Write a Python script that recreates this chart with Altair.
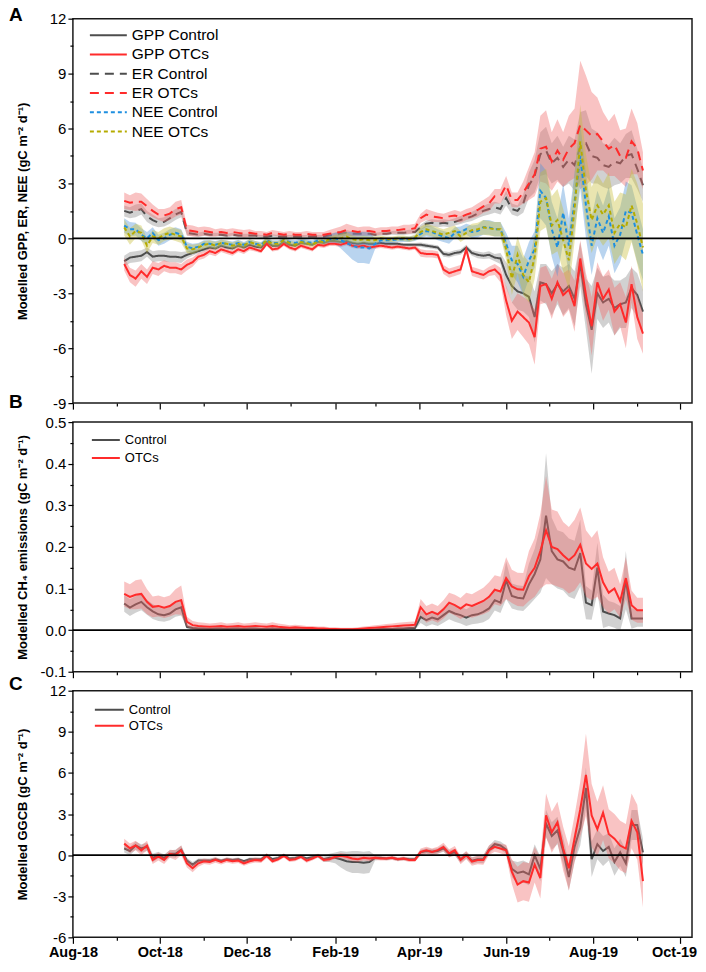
import altair as alt
import pandas as pd

N = 92
dates = pd.date_range("2018-09-06", periods=N, freq="4D").strftime("%Y-%m-%d").tolist()

# ---------------- Panel A : GPP, ER, NEE (gC m-2 d-1) ----------------
gpp_control = ([-1.25, -1.05, -1.0, -0.95, -0.75, -1.0, -0.95, -0.95, -1.0, -1.0, -1.05]
    + [-0.9, -0.8, -0.7, -0.6, -0.5, -0.55, -0.4, -0.5, -0.55, -0.4, -0.5, -0.35, -0.45, -0.5, -0.2, -0.4, -0.4, -0.2, -0.35, -0.4, -0.25, -0.3, -0.35, -0.2, -0.25, -0.15, -0.15, -0.2, -0.15, -0.25, -0.3, -0.25, -0.3, -0.3, -0.25, -0.3, -0.3, -0.3, -0.35, -0.35, -0.35]
    + [-0.35, -0.4, -0.45, -0.5, -0.85, -0.9, -0.8, -0.75, -0.5, -0.8, -0.9, -0.95, -0.9]
    + [-1.05, -1.1, -2.0, -2.6, -2.9, -3.0, -3.2, -4.3, -2.4, -2.5, -3.0, -2.5, -2.9, -2.6, -3.3, -1.4, -3.6, -5.0, -3.0, -3.5, -3.3, -3.8, -3.6, -3.5, -2.7, -3.1, -4.0])
gpp_otcs = ([-1.4, -2.0, -2.2, -1.8, -2.1, -1.6, -1.7, -1.5, -1.6, -1.6, -1.7]
    + [-1.45, -1.3, -1.0, -0.9, -0.7, -0.8, -0.6, -0.7, -0.8, -0.6, -0.7, -0.5, -0.6, -0.7, -0.3, -0.6, -0.55, -0.3, -0.5, -0.6, -0.4, -0.5, -0.6, -0.35, -0.4, -0.3, -0.3, -0.35, -0.25, -0.4, -0.45, -0.4, -0.5, -0.45, -0.4, -0.45, -0.5, -0.45, -0.5, -0.55, -0.5]
    + [-0.8, -0.85, -0.85, -0.9, -1.7, -1.9, -1.8, -1.7, -0.6, -1.8, -1.9, -2.0, -1.8]
    + [-1.7, -2.0, -3.4, -4.5, -4.0, -4.3, -4.6, -5.4, -2.6, -2.5, -3.3, -2.4, -3.1, -2.8, -3.7, -1.1, -3.1, -4.8, -2.4, -3.3, -2.8, -4.0, -3.6, -4.6, -2.5, -4.3, -5.2])
er_control = ([1.5, 1.4, 1.5, 1.6, 1.2, 1.0, 0.85, 0.9, 1.1, 1.3, 1.45]
    + [0.3, 0.25, 0.2, 0.25, 0.2, 0.2, 0.2, 0.15, 0.2, 0.15, 0.15, 0.15, 0.15, 0.1, 0.1, 0.15, 0.1, 0.1, 0.1, 0.1, 0.1, 0.1, 0.1, 0.1, 0.1, 0.15, 0.2, 0.25, 0.3, 0.25, 0.25, 0.25, 0.25, 0.2, 0.25, 0.25, 0.3, 0.3, 0.3, 0.35, 0.35]
    + [0.6, 0.8, 0.85, 0.8, 0.85, 0.8, 0.9, 1.0, 1.1, 1.2, 1.35, 1.5, 1.6]
    + [1.7, 1.6, 2.2, 1.6, 1.5, 1.9, 2.9, 3.4, 4.6, 4.8, 4.1, 4.4, 3.9, 4.3, 4.0, 5.0, 5.2, 4.5, 4.4, 4.0, 3.9, 4.2, 4.1, 4.5, 4.6, 3.8, 2.9])
er_otcs = ([2.05, 1.95, 2.0, 2.0, 1.75, 1.5, 1.3, 1.25, 1.35, 1.6, 1.7]
    + [0.45, 0.4, 0.35, 0.4, 0.35, 0.3, 0.35, 0.3, 0.35, 0.3, 0.25, 0.3, 0.25, 0.25, 0.2, 0.3, 0.25, 0.2, 0.25, 0.2, 0.2, 0.25, 0.2, 0.2, 0.2, 0.25, 0.3, 0.35, 0.45, 0.4, 0.35, 0.4, 0.4, 0.35, 0.4, 0.4, 0.45, 0.45, 0.5, 0.5, 0.55]
    + [1.1, 1.3, 1.2, 1.15, 1.1, 1.2, 1.25, 1.15, 1.3, 1.4, 1.55, 1.75, 1.9]
    + [2.3, 2.3, 2.9, 2.1, 2.1, 2.5, 3.0, 3.5, 4.9, 5.0, 4.2, 4.8, 4.3, 4.9, 5.2, 6.2, 5.9, 5.6, 5.7, 5.3, 4.9, 5.1, 4.5, 4.4, 5.3, 4.9, 3.7])
nee_control = ([0.7, 0.5, 0.5, 0.2, 0.0, 0.3, -0.1, 0.0, 0.2, 0.3, 0.2]
    + [-0.45, -0.55, -0.45, -0.3, -0.3, -0.35, -0.25, -0.3, -0.35, -0.25, -0.35, -0.2, -0.3, -0.35, -0.1, -0.25, -0.25, -0.1, -0.2, -0.25, -0.15, -0.2, -0.25, -0.1, -0.15, -0.05, 0.0, -0.1, -0.25, -0.4, -0.5, -0.5, -0.55, -0.3, -0.1, -0.1, -0.1, -0.05, -0.05, -0.05, 0.0]
    + [0.25, 0.4, 0.35, 0.2, 0.1, 0.0, 0.3, 0.35, 0.5, 0.35, 0.4, 0.6, 0.6]
    + [0.5, 0.5, -0.3, -1.2, -1.4, -2.1, -1.2, -0.6, 2.6, 2.2, 0.5, -0.5, 1.4, -0.4, 2.0, 4.5, 1.8, -0.4, 1.1, 0.3, 1.2, -0.4, 0.2, 1.5, 1.4, 0.2, -0.9])
nee_otcs = ([0.6, 0.1, 0.4, 0.3, -0.4, 0.1, 0.0, 0.2, 0.3, 0.2, 0.1]
    + [-0.55, -0.6, -0.5, -0.35, -0.3, -0.4, -0.25, -0.3, -0.4, -0.3, -0.4, -0.2, -0.3, -0.4, -0.1, -0.3, -0.3, -0.1, -0.25, -0.35, -0.2, -0.25, -0.35, -0.15, -0.2, -0.05, 0.0, 0.0, 0.1, -0.05, -0.1, -0.05, -0.1, -0.1, 0.0, -0.05, -0.05, 0.0, 0.0, -0.05, 0.05]
    + [0.35, 0.5, 0.4, 0.3, 0.2, 0.3, 0.4, 0.1, 0.3, 0.45, 0.5, 0.6, 0.55]
    + [0.5, 0.5, -0.6, -2.2, -0.9, -2.0, -2.4, -1.0, 2.0, 2.2, 0.7, 1.0, -0.1, -1.2, 1.6, 5.3, 2.6, 1.0, 1.8, 1.3, 1.8, 0.3, 0.8, 0.6, 1.8, 0.8, -0.5])

# half-widths of the uncertainty bands
gpp_control_hw = ([0.3, 0.3, 0.3, 0.3, 0.25, 0.3, 0.3, 0.3, 0.3, 0.3, 0.3]
    + [0.2, 0.15, 0.12, 0.12, 0.1, 0.1, 0.1, 0.1, 0.1, 0.1, 0.1, 0.1, 0.08, 0.08, 0.08, 0.08, 0.08, 0.08, 0.08, 0.08, 0.08, 0.08, 0.08, 0.08, 0.08, 0.08, 0.1, 0.1, 0.1, 0.1, 0.1, 0.1, 0.1, 0.1, 0.1, 0.1, 0.1, 0.1, 0.1, 0.1, 0.1]
    + [0.12, 0.12, 0.12, 0.12, 0.15, 0.15, 0.15, 0.15, 0.15, 0.15, 0.18, 0.18, 0.2]
    + [0.2, 0.3, 0.7, 0.9, 1.0, 1.0, 1.1, 1.4, 1.0, 1.1, 1.2, 1.1, 1.3, 1.2, 1.5, 1.2, 1.4, 2.4, 1.4, 1.4, 1.3, 1.5, 1.3, 1.4, 1.1, 1.2, 1.2])
gpp_otcs_hw = ([0.35, 0.4, 0.45, 0.4, 0.4, 0.35, 0.35, 0.3, 0.3, 0.3, 0.3]
    + [0.3, 0.25, 0.2, 0.2, 0.18, 0.18, 0.15, 0.15, 0.15, 0.15, 0.15, 0.15, 0.12, 0.12, 0.12, 0.12, 0.12, 0.12, 0.12, 0.12, 0.12, 0.12, 0.12, 0.12, 0.12, 0.12, 0.12, 0.12, 0.12, 0.12, 0.12, 0.12, 0.12, 0.12, 0.12, 0.12, 0.12, 0.12, 0.12, 0.12, 0.12]
    + [0.2, 0.2, 0.2, 0.2, 0.25, 0.25, 0.25, 0.25, 0.2, 0.25, 0.25, 0.25, 0.25]
    + [0.3, 0.4, 0.8, 1.0, 1.0, 1.1, 1.2, 1.5, 1.0, 1.0, 1.1, 1.0, 1.2, 1.1, 1.4, 1.0, 1.2, 1.6, 1.1, 1.2, 1.1, 1.3, 1.2, 1.4, 1.0, 1.2, 1.1])
er_control_hw = ([0.3, 0.3, 0.35, 0.3, 0.3, 0.3, 0.25, 0.25, 0.3, 0.3, 0.3]
    + [0.15, 0.12, 0.12, 0.12, 0.1, 0.1, 0.1, 0.1, 0.1, 0.1, 0.1, 0.1, 0.08, 0.08, 0.08, 0.08, 0.08, 0.08, 0.08, 0.08, 0.08, 0.08, 0.08, 0.08, 0.08, 0.1, 0.12, 0.15, 0.15, 0.12, 0.12, 0.12, 0.12, 0.1, 0.1, 0.1, 0.1, 0.12, 0.12, 0.12, 0.12]
    + [0.15, 0.18, 0.2, 0.2, 0.2, 0.2, 0.2, 0.22, 0.22, 0.25, 0.25, 0.28, 0.3]
    + [0.3, 0.3, 0.4, 0.3, 0.3, 0.5, 0.7, 0.9, 1.2, 1.3, 1.1, 1.2, 1.1, 1.3, 1.4, 1.9, 1.8, 1.5, 1.4, 1.2, 1.2, 1.3, 1.1, 1.2, 1.3, 1.1, 0.9])
er_otcs_hw = ([0.45, 0.4, 0.5, 0.45, 0.4, 0.35, 0.3, 0.35, 0.35, 0.4, 0.4]
    + [0.3, 0.3, 0.25, 0.25, 0.25, 0.2, 0.2, 0.2, 0.2, 0.2, 0.2, 0.2, 0.15, 0.15, 0.15, 0.15, 0.15, 0.15, 0.15, 0.15, 0.15, 0.15, 0.15, 0.15, 0.15, 0.2, 0.25, 0.3, 0.35, 0.3, 0.25, 0.25, 0.25, 0.2, 0.2, 0.2, 0.2, 0.2, 0.25, 0.25, 0.25]
    + [0.25, 0.3, 0.3, 0.25, 0.25, 0.25, 0.3, 0.3, 0.3, 0.3, 0.35, 0.35, 0.4]
    + [0.4, 0.4, 0.5, 0.4, 0.4, 0.6, 0.9, 1.2, 1.8, 2.0, 1.6, 1.7, 1.5, 1.8, 1.9, 3.5, 3.0, 2.4, 2.0, 1.6, 1.5, 1.7, 1.4, 1.6, 1.8, 1.4, 1.0])
nee_control_hw = ([0.4, 0.4, 0.35, 0.35, 0.35, 0.3, 0.3, 0.3, 0.3, 0.3, 0.3]
    + [0.25, 0.25, 0.2, 0.2, 0.2, 0.2, 0.18, 0.18, 0.18, 0.18, 0.15, 0.15, 0.15, 0.15, 0.15, 0.15, 0.15, 0.15, 0.15, 0.15, 0.15, 0.15, 0.15, 0.15, 0.2, 0.25, 0.3, 0.45, 0.6, 0.75, 0.85, 0.85, 0.85, 0.3, 0.15, 0.15, 0.15, 0.15, 0.15, 0.15, 0.15]
    + [0.25, 0.3, 0.3, 0.3, 0.3, 0.3, 0.3, 0.3, 0.3, 0.35, 0.35, 0.4, 0.4]
    + [0.4, 0.4, 0.6, 0.8, 1.0, 1.0, 1.0, 1.0, 1.5, 1.5, 1.5, 1.6, 1.6, 1.5, 1.6, 1.8, 1.8, 1.6, 1.5, 1.5, 1.6, 1.5, 1.5, 1.6, 1.5, 1.5, 1.4])
nee_otcs_hw = ([0.45, 0.45, 0.4, 0.4, 0.4, 0.35, 0.35, 0.35, 0.35, 0.35, 0.35]
    + [0.25, 0.25, 0.2, 0.2, 0.2, 0.2, 0.18, 0.18, 0.18, 0.18, 0.15, 0.15, 0.15, 0.15, 0.15, 0.15, 0.15, 0.15, 0.15, 0.15, 0.15, 0.15, 0.15, 0.15, 0.15, 0.15, 0.2, 0.25, 0.25, 0.2, 0.2, 0.2, 0.2, 0.2, 0.15, 0.15, 0.15, 0.15, 0.15, 0.15, 0.15]
    + [0.3, 0.3, 0.3, 0.3, 0.3, 0.3, 0.3, 0.3, 0.3, 0.35, 0.35, 0.4, 0.4]
    + [0.4, 0.4, 0.6, 0.9, 1.0, 1.1, 1.1, 1.2, 1.6, 1.6, 1.6, 1.7, 1.7, 1.6, 1.8, 2.0, 2.0, 1.8, 1.7, 1.7, 1.8, 1.7, 1.7, 1.8, 2.0, 2.2, 2.4])

# ---------------- Panel B : CH4 emissions ----------------
ch4_control = ([0.064, 0.054, 0.062, 0.068, 0.055, 0.045, 0.038, 0.036, 0.040, 0.050, 0.055]
    + [0.008, 0.005, 0.004, 0.004, 0.003, 0.004, 0.004, 0.003, 0.004, 0.004, 0.003, 0.004, 0.004, 0.003, 0.003, 0.004, 0.003, 0.003, 0.002, 0.002, 0.002, 0.002, 0.002, 0.001, 0.001, 0.001, 0.001, 0.001, 0.001, 0.001, 0.001, 0.002, 0.002, 0.002, 0.003, 0.003, 0.003, 0.004, 0.004, 0.005, 0.005]
    + [0.032, 0.024, 0.030, 0.026, 0.036, 0.046, 0.040, 0.036, 0.030, 0.036, 0.038, 0.044, 0.052]
    + [0.072, 0.066, 0.12, 0.082, 0.078, 0.076, 0.11, 0.135, 0.17, 0.275, 0.19, 0.17, 0.165, 0.15, 0.145, 0.185, 0.066, 0.06, 0.15, 0.045, 0.04, 0.036, 0.028, 0.12, 0.028, 0.028, 0.028])
ch4_otcs = ([0.087, 0.080, 0.085, 0.087, 0.068, 0.056, 0.058, 0.054, 0.058, 0.068, 0.072]
    + [0.02, 0.012, 0.01, 0.009, 0.008, 0.009, 0.01, 0.008, 0.009, 0.01, 0.008, 0.009, 0.01, 0.009, 0.008, 0.01, 0.008, 0.007, 0.006, 0.007, 0.006, 0.005, 0.005, 0.004, 0.004, 0.003, 0.003, 0.002, 0.002, 0.002, 0.003, 0.004, 0.005, 0.006, 0.007, 0.008, 0.009, 0.01, 0.011, 0.012, 0.013]
    + [0.055, 0.038, 0.044, 0.038, 0.050, 0.066, 0.060, 0.052, 0.062, 0.058, 0.064, 0.070, 0.080]
    + [0.097, 0.093, 0.125, 0.105, 0.098, 0.097, 0.13, 0.15, 0.19, 0.24, 0.20, 0.195, 0.18, 0.168, 0.18, 0.205, 0.16, 0.147, 0.16, 0.115, 0.09, 0.10, 0.07, 0.125, 0.06, 0.048, 0.048])
ch4_control_hw = ([0.02, 0.02, 0.02, 0.02, 0.018, 0.018, 0.016, 0.016, 0.016, 0.018, 0.02]
    + [0.005, 0.004, 0.003, 0.003, 0.003, 0.003, 0.003, 0.003, 0.003, 0.003, 0.003, 0.003, 0.003, 0.003, 0.003, 0.003, 0.003, 0.003, 0.002, 0.002, 0.002, 0.002, 0.002, 0.002, 0.002, 0.002, 0.002, 0.002, 0.002, 0.002, 0.002, 0.002, 0.002, 0.002, 0.003, 0.003, 0.003, 0.003, 0.003, 0.004, 0.004]
    + [0.015, 0.015, 0.016, 0.016, 0.018, 0.02, 0.02, 0.02, 0.02, 0.022, 0.022, 0.025, 0.025]
    + [0.025, 0.025, 0.045, 0.03, 0.03, 0.03, 0.05, 0.06, 0.08, 0.15, 0.08, 0.07, 0.07, 0.07, 0.07, 0.08, 0.04, 0.035, 0.06, 0.04, 0.03, 0.03, 0.03, 0.07, 0.025, 0.02, 0.02])
ch4_otcs_hw = ([0.03, 0.03, 0.035, 0.035, 0.03, 0.025, 0.025, 0.025, 0.025, 0.03, 0.035]
    + [0.012, 0.01, 0.009, 0.009, 0.008, 0.008, 0.009, 0.008, 0.008, 0.009, 0.008, 0.008, 0.009, 0.008, 0.008, 0.009, 0.008, 0.007, 0.006, 0.006, 0.006, 0.005, 0.005, 0.005, 0.005, 0.004, 0.004, 0.004, 0.004, 0.004, 0.004, 0.005, 0.005, 0.006, 0.006, 0.007, 0.007, 0.008, 0.008, 0.008, 0.008]
    + [0.02, 0.02, 0.02, 0.02, 0.022, 0.024, 0.025, 0.025, 0.028, 0.028, 0.03, 0.032, 0.035]
    + [0.035, 0.035, 0.05, 0.04, 0.04, 0.04, 0.06, 0.07, 0.09, 0.13, 0.09, 0.09, 0.08, 0.08, 0.085, 0.09, 0.08, 0.075, 0.08, 0.06, 0.05, 0.05, 0.04, 0.05, 0.035, 0.03, 0.03])

# ---------------- Panel C : GGCB ----------------
ggcb_control = ([0.5, 0.3, 0.7, 0.5, 0.6, -0.2, 0.0, -0.2, 0.1, 0.1, 0.4]
    + [-0.4, -0.7, -0.4, -0.4, -0.4, -0.3, -0.4, -0.3, -0.35, -0.3, -0.45, -0.3, -0.3, -0.3, 0.0, -0.3, -0.2, 0.0, -0.25, -0.2, -0.1, -0.25, -0.15, -0.05, -0.3, -0.2, -0.2, -0.3, -0.45, -0.5, -0.5, -0.55, -0.5, -0.2, -0.2, -0.25, -0.2, -0.3, -0.25, -0.3, -0.3]
    + [0.2, 0.3, 0.25, 0.3, 0.5, 0.1, 0.2, -0.3, 0.0, -0.4, -0.3, -0.3, 0.4]
    + [0.8, 0.7, 0.4, -1.0, -1.3, -1.2, -1.4, 0.0, -1.0, 2.3, 1.4, 1.8, 0.3, -1.6, 0.6, 2.0, 4.9, -0.3, 0.8, 0.3, 0.6, -0.5, 0.2, -0.6, 2.2, 2.2, 0.2])
ggcb_otcs = ([0.84, 0.5, 0.7, 0.35, 0.7, -0.35, -0.1, -0.35, 0.1, 0.0, 0.35]
    + [-0.6, -0.95, -0.6, -0.45, -0.5, -0.35, -0.5, -0.35, -0.45, -0.4, -0.6, -0.45, -0.35, -0.4, -0.05, -0.45, -0.3, -0.05, -0.35, -0.3, -0.12, -0.4, -0.25, -0.05, -0.35, -0.3, -0.12, -0.05, -0.12, -0.25, -0.3, -0.2, -0.25, -0.2, -0.25, -0.25, -0.2, -0.3, -0.25, -0.35, -0.35]
    + [0.24, 0.36, 0.24, 0.36, 0.6, 0.12, 0.36, -0.36, 0.0, -0.48, -0.36, -0.36, 0.36]
    + [0.6, 0.48, 0.36, -1.2, -2.15, -1.9, -2.0, -0.7, -1.67, 2.9, 1.67, 2.4, 0.48, -0.96, 1.2, 3.35, 5.86, 2.9, 1.9, 3.1, 1.55, 1.2, 0.7, 0.48, 2.5, 1.67, -1.9])
ggcb_control_hw = ([0.3, 0.3, 0.3, 0.3, 0.3, 0.3, 0.25, 0.25, 0.25, 0.3, 0.3]
    + [0.2, 0.2, 0.15, 0.15, 0.15, 0.15, 0.12, 0.12, 0.12, 0.12, 0.12, 0.12, 0.12, 0.12, 0.12, 0.12, 0.12, 0.12, 0.12, 0.12, 0.12, 0.12, 0.12, 0.15, 0.2, 0.3, 0.4, 0.6, 0.7, 0.8, 0.8, 0.8, 0.8, 0.2, 0.12, 0.12, 0.12, 0.12, 0.12, 0.12, 0.12]
    + [0.2, 0.2, 0.2, 0.2, 0.25, 0.25, 0.25, 0.25, 0.25, 0.25, 0.25, 0.3, 0.3]
    + [0.3, 0.3, 0.3, 0.6, 0.8, 0.8, 0.8, 0.8, 0.9, 1.0, 1.0, 1.0, 1.0, 1.0, 1.1, 1.3, 1.5, 1.3, 1.1, 1.1, 1.0, 1.0, 1.0, 1.0, 1.1, 1.1, 1.0])
ggcb_otcs_hw = ([0.35, 0.35, 0.35, 0.35, 0.35, 0.3, 0.3, 0.3, 0.3, 0.35, 0.35]
    + [0.3, 0.3, 0.25, 0.2, 0.2, 0.2, 0.18, 0.18, 0.18, 0.18, 0.18, 0.18, 0.18, 0.18, 0.18, 0.15, 0.15, 0.15, 0.15, 0.15, 0.15, 0.15, 0.15, 0.15, 0.15, 0.15, 0.15, 0.2, 0.2, 0.2, 0.2, 0.2, 0.2, 0.15, 0.15, 0.15, 0.15, 0.15, 0.15, 0.15, 0.15]
    + [0.25, 0.25, 0.25, 0.25, 0.3, 0.3, 0.3, 0.3, 0.3, 0.3, 0.3, 0.35, 0.35]
    + [0.35, 0.35, 0.4, 0.9, 1.3, 1.4, 1.4, 1.3, 1.5, 1.6, 1.5, 1.5, 1.6, 1.6, 1.7, 2.0, 3.0, 2.3, 2.0, 2.0, 1.8, 1.8, 1.8, 1.8, 2.0, 2.0, 1.9])

# ---------------- helpers ----------------
def build(names, vals, hws):
    rows = []
    for name, v, h in zip(names, vals, hws):
        assert len(v) == N and len(h) == N, (name, len(v), len(h))
        for d, a, b in zip(dates, v, h):
            rows.append({"date": d, "series": name, "band": name + " band",
                         "value": a, "lo": a - b, "hi": a + b})
    return pd.DataFrame(rows)

A_names = ["GPP Control", "GPP OTCs", "ER Control", "ER OTCs", "NEE Control", "NEE OTCs"]
dfA = build(A_names,
            [gpp_control, gpp_otcs, er_control, er_otcs, nee_control, nee_otcs],
            [gpp_control_hw, gpp_otcs_hw, er_control_hw, er_otcs_hw, nee_control_hw, nee_otcs_hw])
BC_names = ["Control", "OTCs"]
dfB = build(BC_names, [ch4_control, ch4_otcs], [ch4_control_hw, ch4_otcs_hw])
dfC = build(BC_names, [ggcb_control, ggcb_otcs], [ggcb_control_hw, ggcb_otcs_hw])

FONT = "Liberation Sans"
CTRL, OTC, NEEC, NEEO = "#4d4d4d", "#ff2b2b", "#1e8fe0", "#b5ab00"
CTRL_B, OTC_B, NEEC_B, NEEO_B = "#8c8c8c", "#f06a6a", "#4f93d6", "#c9bf3a"

def ms(s):
    return int(pd.Timestamp(s, tz="UTC").value // 10**6)

month_ticks = [ms(t) for t in pd.date_range("2018-08-01", "2019-10-01", freq="MS")]
x_domain = [ms("2018-08-01"), ms("2019-10-09 10:00")]
MAJ_X = "utcmonth(datum.value) % 2 == 1"
LAST_X = "utcyear(datum.value) == 2019 && utcmonth(datum.value) == 9"

def xenc(field, labels):
    ax = dict(values=month_ticks, title=None, grid=False, domain=False,
              tickSize={"condition": {"test": MAJ_X, "value": 6}, "value": 3},
              labels=labels, labelFlush=False, labelOverlap=False)
    if labels:
        ax.update(labelExpr=f"{MAJ_X} ? utcFormat(datum.value, '%b-%y') : ''",
                  labelFontWeight="bold", labelFontSize=14.5, labelPadding=2,
                  labelOffset={"condition": {"test": LAST_X, "value": -6}, "value": 0})
    return alt.X(f"{field}:T", scale=alt.Scale(type="utc", domain=x_domain), axis=alt.Axis(**ax))

def yenc(field, domain, values, major_test, label_expr, title):
    ax = alt.Axis(values=values, title=title, titleX=-50, titleBaseline="middle",
                  grid=False, domain=False, labelOverlap=False, labelFontSize=15, labelPadding=2,
                  tickSize={"condition": {"test": major_test, "value": 5}, "value": 3},
                  labelExpr=label_expr)
    return alt.Y(f"{field}:Q", scale=alt.Scale(domain=domain, nice=False, zero=False), axis=ax)

def panel(df, names, colors, fills, dashes, legend, yargs, letter, letter_y, width, height,
          order):
    base = alt.Chart(df)
    Y = lambda f: yenc(f, *yargs)
    cscale = alt.Scale(domain=names, range=colors)
    fscale = alt.Scale(domain=[n + " band" for n in names], range=fills)
    dscale = alt.Scale(domain=names, range=dashes) if dashes is not None else None
    layers = []
    first_line = True
    for kind, group in order:
        sub = base.transform_filter(alt.FieldOneOfPredicate(field="series", oneOf=group))
        if kind == "band":
            layers.append(sub.mark_area(opacity=0.4).encode(
                x=xenc("date", letter == "C"), y=Y("lo"), y2="hi:Q",
                fill=alt.Fill("band:N", scale=fscale, legend=None)))
        else:
            lg = legend if first_line else None
            first_line = False
            enc = dict(x=xenc("date", letter == "C"), y=Y("value"),
                       color=alt.Color("series:N", scale=cscale, legend=lg))
            if dscale is not None:
                enc["strokeDash"] = alt.StrokeDash("series:N", scale=dscale, legend=lg)
            layers.append(sub.mark_line(strokeWidth=2).encode(**enc))
    zero = alt.Chart(pd.DataFrame({"value": [0.0]})).mark_rule(color="black", strokeWidth=1.6).encode(
        y=Y("value"))
    lab = alt.Chart(pd.DataFrame({"t": [letter]})).mark_text(
        align="left", baseline="alphabetic", fontSize=19, fontWeight="bold", font=FONT, color="black"
    ).encode(x=alt.value(-64), y=alt.value(letter_y), text="t:N")
    return alt.layer(*layers, zero, lab).properties(width=width, height=height)

SUP = "(gC m\u207b\u00b2 d\u207b\u00b9)"

legA = alt.Legend(title=None, orient="none", legendX=16, legendY=8.5, direction="vertical",
                  labelFontSize=15.5, labelFont=FONT, labelColor="black", symbolType="stroke",
                  symbolSize=1369, symbolStrokeWidth=2, clipHeight=16, rowPadding=2.3,
                  labelOffset=4, padding=0, offset=0)
chartA = panel(dfA, A_names, [CTRL, OTC, CTRL, OTC, NEEC, NEEO],
               [CTRL_B, OTC_B, CTRL_B, OTC_B, NEEC_B, NEEO_B],
               [[1, 0], [1, 0], [9, 6], [9, 6], [4, 3], [4, 3]], legA,
               ([-9, 12], [-9 + 1.5 * k for k in range(15)], "datum.value % 3 == 0",
                "datum.value % 3 == 0 ? '' + datum.value : ''",
                "Modelled GPP, ER, NEE " + SUP),
               "A", 2.5, 620, 385,
               [("band", ["GPP Control", "ER Control"]), ("line", ["GPP Control", "ER Control"]),
                ("band", ["GPP OTCs", "ER OTCs", "NEE Control", "NEE OTCs"]),
                ("line", ["GPP OTCs", "ER OTCs"]), ("line", ["NEE Control", "NEE OTCs"])])

def small_legend(x, y, size, clip, rowpad):
    return alt.Legend(title=None, orient="none", legendX=x, legendY=y, direction="vertical",
                      labelFontSize=13, labelFont=FONT, labelColor="black", symbolType="stroke",
                      symbolSize=size, symbolStrokeWidth=2, clipHeight=clip, rowPadding=rowpad,
                      labelOffset=4, padding=0, offset=0)

b_ticks = [-0.1, -0.05, 0.0, 0.05, 0.1, 0.15, 0.2, 0.25, 0.3, 0.35, 0.4, 0.45, 0.5]
B_MAJ = "abs(round(datum.value * 100)) % 10 == 0"
chartB = panel(dfB, BC_names, [CTRL, OTC], [CTRL_B, OTC_B], None,
               small_legend(18, 10.5, 784, 15, 3),
               ([-0.1, 0.5], b_ticks, B_MAJ,
                f"{B_MAJ} ? (datum.value == 0 ? '0.0' : '' + datum.value) : ''",
                "Modelled CH\u2084 emissions " + SUP),
               "B", -14, 620, 250,
               [("band", ["Control"]), ("line", ["Control"]), ("band", ["OTCs"]), ("line", ["OTCs"])])

chartC = panel(dfC, BC_names, [CTRL, OTC], [CTRL_B, OTC_B], None,
               small_legend(21, 12, 841, 14, 2),
               ([-6, 12], [-6 + 1.5 * k for k in range(13)], "datum.value % 3 == 0",
                "datum.value % 3 == 0 ? '' + datum.value : ''",
                "Modelled GGCB " + SUP),
               "C", -1, 620, 247,
               [("band", ["Control"]), ("line", ["Control"]), ("band", ["OTCs"]), ("line", ["OTCs"])])

chart = alt.vconcat(chartA, chartB, chartC, spacing=19, bounds="flush").resolve_scale(
    color="independent", fill="independent", strokeDash="independent"
).properties(
    padding={"left": 0, "top": -4, "right": 0, "bottom": 0}
).configure_view(stroke="#1a1a1a", strokeWidth=1.5).configure_axis(
    labelFont=FONT, titleFont=FONT, labelColor="black", titleColor="black",
    tickColor="black", tickWidth=1.2, titleFontSize=13, titleFontWeight="bold"
).configure_legend(labelFont=FONT)

chart.save("out.html", embed_options={"renderer": "svg", "actions": False})
